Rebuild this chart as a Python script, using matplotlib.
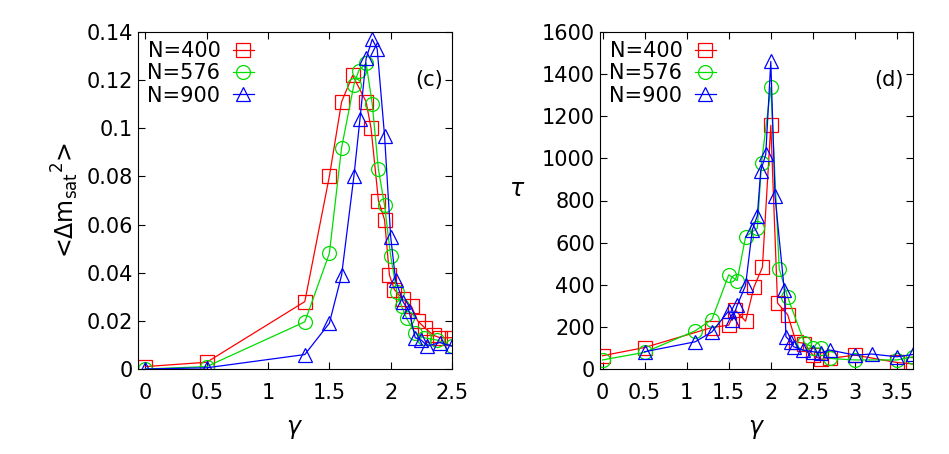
import matplotlib
matplotlib.use("Agg")
import matplotlib.pyplot as plt

# Panel (c)
c_x400 = [0, 0.5, 1.30, 1.50, 1.60, 1.69, 1.80, 1.84, 1.90, 1.95, 1.99, 2.03, 2.10, 2.17, 2.22, 2.28, 2.35, 2.40, 2.5]
c_y400 = [0.001, 0.0028, 0.028, 0.080, 0.111, 0.122, 0.111, 0.100, 0.070, 0.062, 0.039, 0.033, 0.029, 0.026, 0.020, 0.017, 0.014, 0.013, 0.013]
c_x576 = [0, 0.5, 1.30, 1.50, 1.60, 1.70, 1.74, 1.80, 1.85, 1.90, 1.95, 2.00, 2.05, 2.09, 2.13, 2.20, 2.27, 2.38, 2.5]
c_y576 = [0, 0.001, 0.0196, 0.048, 0.092, 0.118, 0.124, 0.127, 0.110, 0.083, 0.068, 0.047, 0.032, 0.026, 0.021, 0.015, 0.013, 0.012, 0.0095]
c_x900 = [0, 0.5, 1.30, 1.50, 1.60, 1.70, 1.75, 1.80, 1.85, 1.89, 1.95, 2.00, 2.04, 2.10, 2.15, 2.20, 2.25, 2.30, 2.40, 2.5]
c_y900 = [0, 0.0005, 0.006, 0.019, 0.039, 0.080, 0.104, 0.129, 0.137, 0.133, 0.097, 0.055, 0.037, 0.028, 0.024, 0.013, 0.012, 0.0095, 0.011, 0.0095]

# Panel (d)
d_x400 = [0, 0.5, 1.3, 1.5, 1.58, 1.7, 1.8, 1.9, 2.0, 2.08, 2.2, 2.3, 2.4, 2.5, 2.6, 2.7, 3.0, 3.5, 3.69]
d_y400 = [63, 102, 197, 208, 279, 227, 389, 483, 1157, 313, 258, 129, 121, 66, 46, 50, 66, 31, 24]
d_x576 = [0, 0.5, 1.1, 1.3, 1.5, 1.6, 1.7, 1.84, 1.89, 2.0, 2.1, 2.2, 2.4, 2.5, 2.6, 2.7, 3.0, 3.5, 3.69]
d_y576 = [43, 79, 181, 235, 447, 420, 628, 669, 980, 1337, 475, 342, 124, 102, 98, 50, 43, 43, 58]
d_x900 = [0.5, 1.1, 1.3, 1.5, 1.54, 1.6, 1.7, 1.78, 1.84, 1.88, 1.94, 2.0, 2.05, 2.16, 2.18, 2.24, 2.27, 2.38, 2.5, 2.6, 2.7, 3.0, 3.2, 3.5, 3.69]
d_y900 = [82, 129, 176, 276, 231, 302, 397, 660, 728, 940, 1019, 1460, 822, 376, 153, 129, 106, 90, 82, 77, 90, 66, 71, 58, 69]

labels = ["N=400", "N=576", "N=900"]
colors = ["#ff0000", "#00dd00", "#0000ff"]
markers = ["s", "o", "^"]

fig = plt.figure(figsize=(9.49, 4.54), dpi=100)
ax1 = fig.add_axes([138/949, 85/454, 314/949, 337/454])
ax2 = fig.add_axes([600/949, 85/454, 313/949, 337/454])

def draw(ax, data):
    for (x, y), lab, c, m in zip(data, labels, colors, markers):
        ax.plot(x, y, color=c, lw=0.9, marker=m, ms=10, mfc="none", mec=c, mew=0.9, label=lab)
    ax.tick_params(direction="in", top=True, right=True, labelsize=15, length=5)
    ax.tick_params(axis="x", pad=10)
    ax.set_xlabel(r"$\gamma$", fontsize=17, labelpad=10)
    ax.legend(loc="upper left", frameon=False, fontsize=15, markerfirst=False,
              handlelength=1.0, handletextpad=0.6, labelspacing=0.1, borderaxespad=0.05)

draw(ax1, [(c_x400, c_y400), (c_x576, c_y576), (c_x900, c_y900)])
ax1.set_xlim(-0.06, 2.5)
ax1.set_ylim(0, 0.14)
ax1.set_xticks([0, 0.5, 1, 1.5, 2, 2.5])
ax1.set_xticklabels(["0", "0.5", "1", "1.5", "2", "2.5"])
ax1.set_yticks([0, 0.02, 0.04, 0.06, 0.08, 0.1, 0.12, 0.14])
ax1.set_yticklabels(["0", "0.02", "0.04", "0.06", "0.08", "0.1", "0.12", "0.14"])
ax1.set_ylabel(r"<$\Delta$m$_{\rm sat}$$^2$>", fontsize=17)
ax1.text(0.97, 0.84, "(c)", transform=ax1.transAxes, ha="right", fontsize=15)

draw(ax2, [(d_x400, d_y400), (d_x576, d_y576), (d_x900, d_y900)])
ax2.set_xlim(-0.03, 3.69)
ax2.set_ylim(0, 1600)
ax2.set_xticks([0, 0.5, 1, 1.5, 2, 2.5, 3, 3.5])
ax2.set_xticklabels(["0", "0.5", "1", "1.5", "2", "2.5", "3", "3.5"])
ax2.set_yticks(range(0, 1601, 200))
ax2.set_ylabel(r"$\tau$", fontsize=17, rotation=0, labelpad=18)
ax2.text(0.97, 0.84, "(d)", transform=ax2.transAxes, ha="right", fontsize=15)

fig.savefig("out.png", dpi=100)
